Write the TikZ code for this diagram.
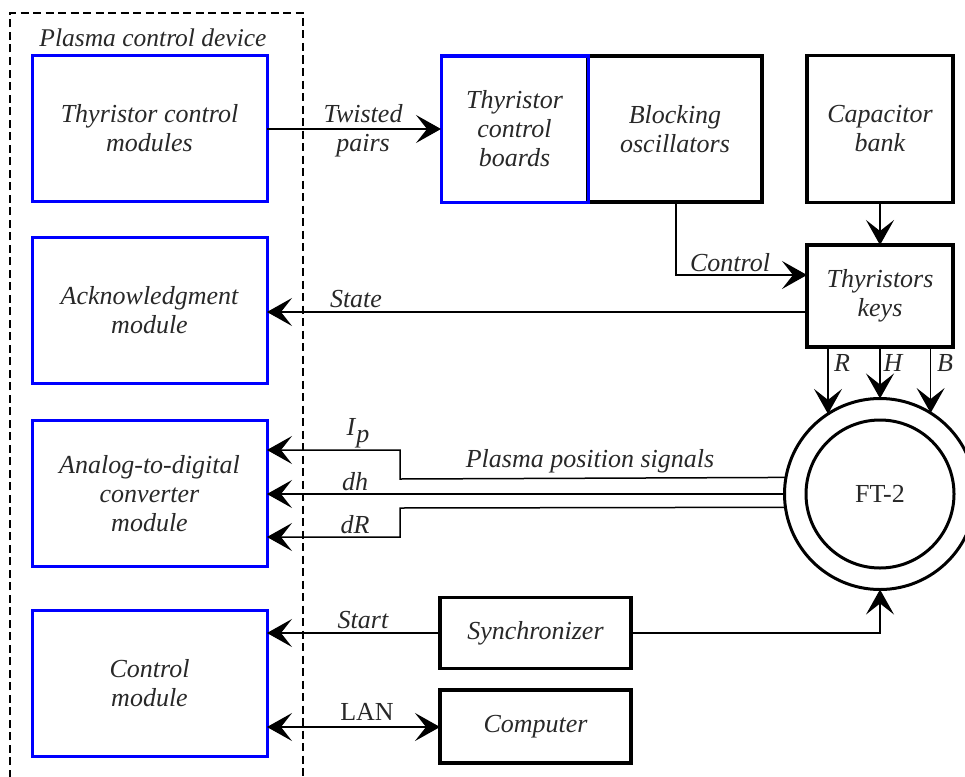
\documentclass[tikz,border=0pt]{standalone}
\usepackage{fontspec}
\setmainfont{Liberation Serif}
\usetikzlibrary{arrows.meta}
\definecolor{txt}{RGB}{40,40,40}
\definecolor{pblue}{RGB}{0,0,255}
\tikzset{bigtip/.tip={Stealth[length=25pt,width=28pt,inset=11pt]}}
\begin{document}
\begin{tikzpicture}[x=1pt,y=-1pt,
  every node/.style={text=txt,font=\fontsize{26}{29}\selectfont\itshape,align=center,inner sep=0pt,outer sep=0pt},
  bluebox/.style={draw=pblue,line width=3pt,minimum width=235pt,minimum height=146pt},
  blkbox/.style={draw=black,line width=3.2pt},
  lbl/.style={},
  arr/.style={line width=1.5pt,-bigtip},
  darr/.style={line width=1.5pt,bigtip-bigtip},
  plain/.style={line width=1.5pt}]
\useasboundingbox (0,0) rectangle (965,776);
% dashed container
\draw[line width=1.4pt,dash pattern=on 8pt off 4.5pt] (10,790) -- (10,13) -- (303,13) -- (303,790);
\node[font=\fontsize{25.5}{28}\selectfont\itshape] (pcd) at (153,38) {Plasma control device};
% blue modules
\node[bluebox] (tcm) at (149.5,128.5) {Thyristor control\\modules};
\node[bluebox] (ack) at (149.5,310.5) {Acknowledgment\\module};
\node[bluebox] (adc) at (149.5,493.5) {Analog-to-digital\\converter\\module};
\node[bluebox] (ctl) at (149.5,683.5) {Control\\module};
% top row
\node[blkbox,minimum width=174pt,minimum height=146pt] (bo) at (675,129) {Blocking\\oscillators};
\node[draw=pblue,line width=3pt,minimum width=147pt,minimum height=146pt] (tcb) at (514.5,129) {Thyristor\\control\\boards};
\node[blkbox,minimum width=146pt,minimum height=147pt] (cb) at (880,129) {Capacitor\\bank};
\node[blkbox,minimum width=146pt,minimum height=102pt] (tk) at (880,296) {Thyristors\\keys};
% FT-2
\node[draw,line width=3pt,circle,minimum size=191pt] (ft) at (880,494) {};
\node[draw,line width=3pt,circle,minimum size=148pt,font=\fontsize{26}{29}\selectfont\upshape] (ftin) at (880,494) {FT-2};
% bottom boxes
\node[blkbox,minimum width=191pt,minimum height=71pt] (sync) at (535.5,633) {Synchronizer};
\node[blkbox,minimum width=191pt,minimum height=73pt] (comp) at (535.5,726.5) {Computer};
% connectors
\draw[arr] (tcm.east |- 0,129) -- (tcb.west |- 0,129);
\node[lbl] (ltw) at (363,131) {Twisted\\pairs};
\draw[arr] (676,202) -- (676,275) -- (tk.west |- 0,275);
\node[lbl] (lctl) at (730,263) {Control};
\draw[arr] (cb.south) -- (tk.north);
\draw[arr] (tk.west |- 0,312) -- (ack.east |- 0,312);
\node[lbl] (lst) at (356,299) {State};
% R H B
\draw[arr] (ft.123.2 |- tk.south) -- (ft.123.2);
\draw[arr] (tk.south) -- (ft.north);
\draw[arr] (ft.58.3 |- tk.south) -- (ft.58.3);
\node[lbl] (lR) at (842,363) {R};
\node[lbl] (lH) at (893,363) {H};
\node[lbl] (lB) at (945,363) {B};
% plasma signals
\coordinate (ipa) at (400,479);
\coordinate (ipb) at (400,450);
\coordinate (dra) at (400,508);
\coordinate (drb) at (400,537);
\draw[arr] (ft.170.9) -- (ipa) -- (ipb) -- (adc.east |- ipb);
\draw[arr] (ft.west) -- (adc.east |- ft.west);
\draw[arr] (ft.188.5) -- (dra) -- (drb) -- (adc.east |- drb);
\node[lbl] (lip) at (358,433) {I\kern1pt\raisebox{-7pt}{p}};
\node[lbl] (ldh) at (355,482) {dh};
\node[lbl] (ldr) at (355,525) {dR};
\node[lbl] (lpps) at (590,461) {Plasma position signals};
% sync / computer
\draw[arr] (sync.west) -- (ctl.east |- sync.west);
\node[lbl] (lstart) at (363,620) {Start};
\coordinate (sc) at (880,633);
\draw[arr] (sync.east) -- (sc) -- (ft.south);
\draw[darr] (ctl.east |- 0,727) -- (comp.west |- 0,727);
\node[lbl,font=\fontsize{26}{29}\selectfont\upshape] (llan) at (367,712) {LAN};
\end{tikzpicture}
\end{document}
